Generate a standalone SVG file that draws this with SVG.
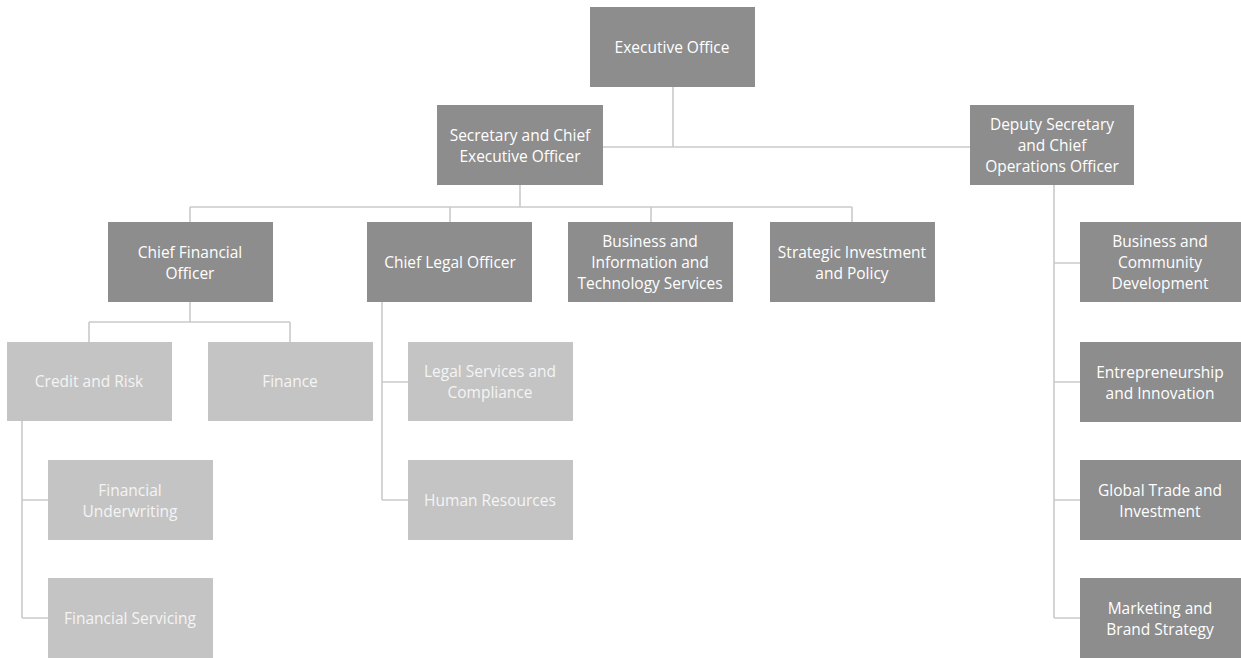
<svg xmlns="http://www.w3.org/2000/svg" width="1241" height="658" viewBox="0 0 1241 658">
<style>
.d{fill:#8d8d8d}
.l{fill:#c4c4c4}
text{font-family:"Open Sans","Liberation Sans",sans-serif;font-size:15.5px;fill:#ffffff;text-anchor:middle;dominant-baseline:central}
.lt{fill:#f4f4f4}
.c{stroke:#cacaca;stroke-width:1.6;fill:none}
</style>
<rect width="1241" height="658" fill="#ffffff"/>
<g id="connectors">
<path class="c" d="M673 87V147M603 147H970"/>
<path class="c" d="M520 185V207M190 207H852M190 207V222M450 207V222M651 207V222M852 207V222"/>
<path class="c" d="M190 302V322M89 322H290M89 322V342M290 322V342"/>
<path class="c" d="M22 420V618M22 500H48M22 618H48"/>
<path class="c" d="M382 302V500M382 382H408M382 500H408"/>
<path class="c" d="M1054 185V618M1054 263H1080M1054 382H1080M1054 500H1080M1054 618H1080"/>
</g>
<g id="exec"><rect class="d" x="590" y="7" width="165" height="80"/><text x="672" y="47">Executive Office</text></g>
<g id="secretary"><rect class="d" x="437" y="105" width="166" height="80"/><text x="520" y="134.5">Secretary and Chief</text><text x="520" y="155.5">Executive Officer</text></g>
<g id="deputy"><rect class="d" x="970" y="105" width="164" height="80"/><text x="1052" y="124">Deputy Secretary</text><text x="1052" y="145">and Chief</text><text x="1052" y="166">Operations Officer</text></g>
<g id="cfo"><rect class="d" x="108" y="222" width="165" height="80"/><text x="190" y="251.5">Chief Financial</text><text x="190" y="272.5">Officer</text></g>
<g id="clo"><rect class="d" x="367" y="222" width="165" height="80"/><text x="450" y="262">Chief Legal Officer</text></g>
<g id="bits"><rect class="d" x="568" y="222" width="165" height="80"/><text x="650" y="241">Business and</text><text x="650" y="262">Information and</text><text x="650" y="283">Technology Services</text></g>
<g id="sip"><rect class="d" x="770" y="222" width="165" height="80"/><text x="852" y="251.5">Strategic Investment</text><text x="852" y="272.5">and Policy</text></g>
<g id="credit"><rect class="l" x="7" y="342" width="165" height="79"/><text class="lt" x="89" y="381">Credit and Risk</text></g>
<g id="finance"><rect class="l" x="208" y="342" width="165" height="79"/><text class="lt" x="290" y="381">Finance</text></g>
<g id="underwriting"><rect class="l" x="48" y="460" width="165" height="80"/><text class="lt" x="130" y="489.5">Financial</text><text class="lt" x="130" y="510.5">Underwriting</text></g>
<g id="servicing"><rect class="l" x="48" y="578" width="165" height="80"/><text class="lt" x="130" y="618">Financial Servicing</text></g>
<g id="legal"><rect class="l" x="408" y="342" width="165" height="79"/><text class="lt" x="490" y="370.5">Legal Services and</text><text class="lt" x="490" y="391.5">Compliance</text></g>
<g id="hr"><rect class="l" x="408" y="460" width="165" height="80"/><text class="lt" x="490" y="500">Human Resources</text></g>
<g id="bcd"><rect class="d" x="1080" y="222" width="161" height="80"/><text x="1160" y="241">Business and</text><text x="1160" y="262">Community</text><text x="1160" y="283">Development</text></g>
<g id="ei"><rect class="d" x="1080" y="342" width="161" height="80"/><text x="1160" y="371.5">Entrepreneurship</text><text x="1160" y="392.5">and Innovation</text></g>
<g id="gti"><rect class="d" x="1080" y="460" width="161" height="80"/><text x="1160" y="489.5">Global Trade and</text><text x="1160" y="510.5">Investment</text></g>
<g id="mbs"><rect class="d" x="1080" y="578" width="161" height="80"/><text x="1160" y="607.5">Marketing and</text><text x="1160" y="628.5">Brand Strategy</text></g>
</svg>
